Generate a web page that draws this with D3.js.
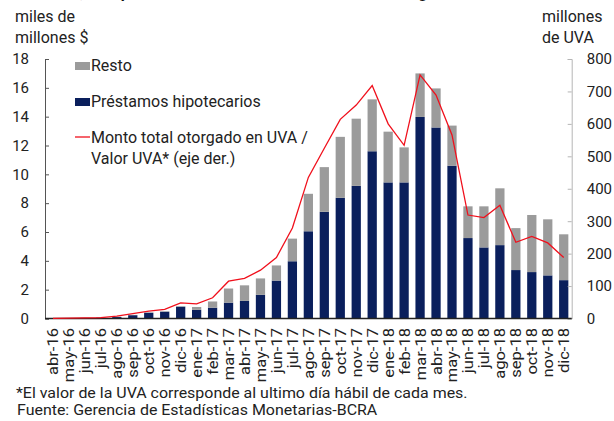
<!DOCTYPE html>
<html>
<head>
<meta charset="utf-8">
<script src="https://cdn.jsdelivr.net/npm/d3@7"></script>
<style>
  body { margin: 0; background: #fff; }
  svg { display: block; font-family: Roboto, "Noto Sans", sans-serif; }
</style>
</head>
<body>
<div id="container"></div>
<script>
// Months on the x axis
const months = ["abr-16","may-16","jun-16","jul-16","ago-16","sep-16","oct-16","nov-16","dic-16",
  "ene-17","feb-17","mar-17","abr-17","may-17","jun-17","jul-17","ago-17","sep-17","oct-17","nov-17","dic-17",
  "ene-18","feb-18","mar-18","abr-18","may-18","jun-18","jul-18","ago-18","sep-18","oct-18","nov-18","dic-18"];

// Préstamos hipotecarios (miles de millones $)
const hipotecarios = [0.02,0.03,0.04,0.06,0.10,0.23,0.40,0.47,0.82,
  0.60,0.75,1.10,1.22,1.64,2.63,3.97,6.05,7.40,8.37,9.20,11.60,
  9.44,9.44,13.98,13.25,10.60,5.58,4.93,5.09,3.36,3.22,2.99,2.66];

// Resto (miles de millones $)
const resto = [0,0,0,0,0.02,0.02,0.02,0.03,0.03,
  0.20,0.43,0.98,1.08,1.14,1.05,1.57,2.60,3.10,4.23,4.66,3.60,
  3.52,2.43,3.02,2.71,2.78,2.20,2.85,3.94,2.91,3.96,3.89,3.18];

// Monto total otorgado en UVA / valor UVA (millones de UVA, eje der.)
const montoUVA = [0.5,1,2,3,7,15,23,28,48,
  45,64,115,124,149,188,279,435,525,614,658,718,
  600,534,751,689,566,319,311,349,235,253,233,188];

const leftTicks = [0,2,4,6,8,10,12,14,16,18];
const rightTicks = [0,100,200,300,400,500,600,700,800];

const width = 614, height = 421;
const x0 = 45, x1 = 571.7, yBottom = 318.5, yTop = 59;

const svg = d3.create("svg")
  .attr("width", width)
  .attr("height", height);

// Scales
const x = d3.scaleBand()
  .domain(months)
  .range([x0, x1])
  .paddingInner(0.42)
  .paddingOuter(0.21);

const y = d3.scaleLinear().domain([0, 18]).range([yBottom, yTop]);
const yR = d3.scaleLinear().domain([0, 800]).range([yBottom, yTop]);

// Title, mostly cut off at the top edge like in the original
svg.append("text")
  .attr("x", 10)
  .attr("y", -2)
  .attr("font-size", 16)
  .attr("font-weight", "bold")
  .attr("fill", "#111")
  .text("Gráfico 3 | Compra de viviendas en UVA: monto total otorgado");

// Stacked bars
const rows = months.map((m, i) => ({ month: m, hipo: hipotecarios[i], resto: resto[i] }));
const stack = d3.stack().keys(["hipo", "resto"])(rows);
const colors = { hipo: "#0a1f5c", resto: "#9b9b9b" };

svg.append("g")
  .selectAll("g")
  .data(stack)
  .join("g")
  .attr("fill", d => colors[d.key])
  .selectAll("rect")
  .data(d => d)
  .join("rect")
  .attr("x", d => x(d.data.month))
  .attr("width", x.bandwidth())
  .attr("y", d => y(d[1]))
  .attr("height", d => y(d[0]) - y(d[1]));

// Left axis
const leftAxis = svg.append("g")
  .attr("transform", `translate(${x0},0)`)
  .call(d3.axisLeft(y).tickValues(leftTicks).tickSize(-4).tickPadding(16));
leftAxis.select(".domain").attr("stroke", "#555");
leftAxis.selectAll(".tick line").attr("stroke", "#555");
leftAxis.selectAll("text").attr("font-size", 15).attr("fill", "#222")
  .attr("font-family", "Roboto, sans-serif");

// Right axis
const rightAxis = svg.append("g")
  .attr("transform", `translate(${x1},0)`)
  .call(d3.axisRight(yR).tickValues(rightTicks).tickSize(-4).tickPadding(15));
rightAxis.select(".domain").attr("stroke", "#b5b5b5");
rightAxis.selectAll(".tick line").attr("stroke", "#b5b5b5");
rightAxis.selectAll("text").attr("font-size", 15).attr("fill", "#222")
  .attr("font-family", "Roboto, sans-serif");

// Baseline
svg.append("line")
  .attr("x1", x0).attr("x2", x1)
  .attr("y1", yBottom).attr("y2", yBottom)
  .attr("stroke", "#222")
  .attr("stroke-width", 1.5);

// UVA line
const line = d3.line()
  .x((d, i) => x(months[i]) + x.bandwidth() / 2)
  .y(d => yR(d));

svg.append("path")
  .datum(montoUVA)
  .attr("fill", "none")
  .attr("stroke", "#f0101c")
  .attr("stroke-width", 1.3)
  .attr("d", line);

// X labels (rotated, a bit stretched along their length like the original)
svg.append("g")
  .selectAll("text")
  .data(months)
  .join("text")
  .attr("transform", d => `translate(${x(d) + x.bandwidth() / 2 + 5.5},328) rotate(-90) scale(1.14,1)`)
  .attr("text-anchor", "end")
  .attr("font-size", 14.5)
  .attr("fill", "#222")
  .text(d => d);

// Axis titles
const titles = [
  { t: "miles de", x: 15, y: 22 },
  { t: "millones $", x: 15, y: 43 },
  { t: "millones", x: 542, y: 22 },
  { t: "de UVA", x: 542, y: 43 }
];
svg.append("g")
  .selectAll("text")
  .data(titles)
  .join("text")
  .attr("x", d => d.x)
  .attr("y", d => d.y)
  .attr("font-size", 16)
  .attr("fill", "#222")
  .text(d => d.t);

// Legend
const legend = svg.append("g").attr("font-size", 16).attr("fill", "#222");
legend.append("rect").attr("x", 75).attr("y", 62).attr("width", 15).attr("height", 8).attr("fill", colors.resto);
legend.append("text").attr("x", 91).attr("y", 71).text("Resto");
legend.append("rect").attr("x", 75).attr("y", 98).attr("width", 15).attr("height", 8).attr("fill", colors.hipo);
legend.append("text").attr("x", 91).attr("y", 107).text("Préstamos hipotecarios");
legend.append("line").attr("x1", 75).attr("x2", 90).attr("y1", 137).attr("y2", 137)
  .attr("stroke", "#f0101c").attr("stroke-width", 1.3);
legend.append("text").attr("x", 91).attr("y", 142.5).text("Monto total otorgado en UVA /");
legend.append("text").attr("x", 91).attr("y", 163.5).text("Valor UVA* (eje der.)");

// Footnotes (horizontally stretched like the original)
const notes = [
  { t: "*El valor de la UVA corresponde al ultimo día hábil de cada mes.", x: 16, y: 397.5 },
  { t: "Fuente: Gerencia de Estadísticas Monetarias-BCRA", x: 17, y: 415 }
];
svg.append("g")
  .selectAll("text")
  .data(notes)
  .join("text")
  .attr("transform", d => `translate(${d.x},${d.y}) scale(1.14,1)`)
  .attr("font-size", 14)
  .attr("fill", "#222")
  .text(d => d.t);

document.getElementById("container").append(svg.node());
</script>
</body>
</html>
